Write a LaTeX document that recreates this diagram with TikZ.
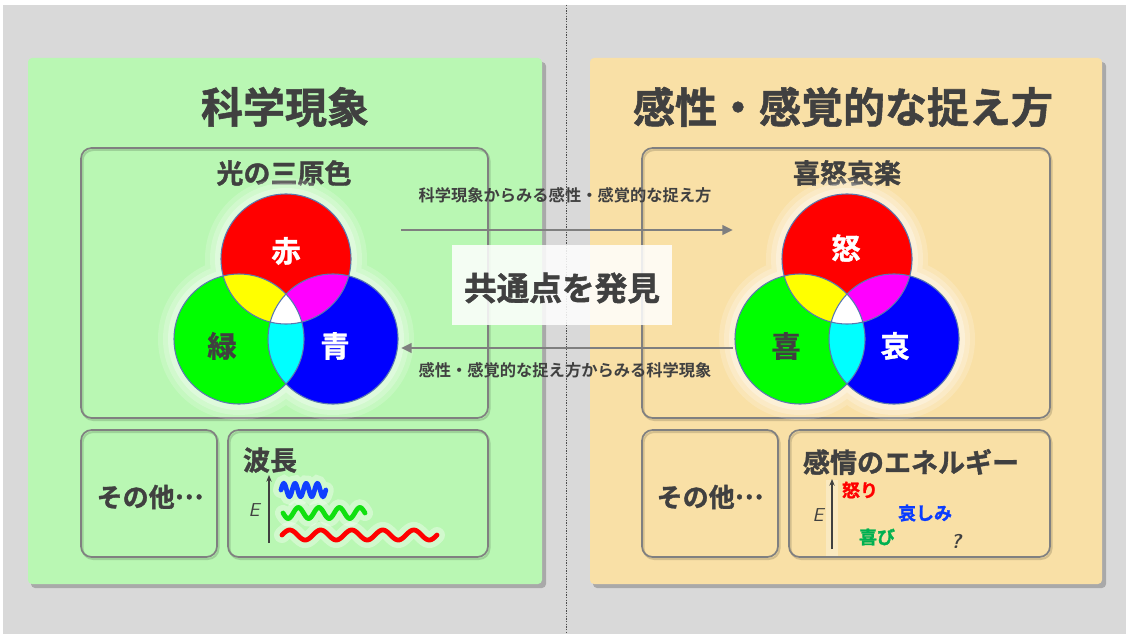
\documentclass[tikz,border=0pt]{standalone}
\usepackage{fontspec}
\newfontfamily\jp{Noto Sans CJK JP}[BoldFont={Noto Sans CJK JP Bold}]
\newfontfamily\jph{Noto Sans CJK JP Bold}[FakeBold=1.3]
\usetikzlibrary{arrows.meta}
\definecolor{bggray}{HTML}{D9D9D9}
\definecolor{panelgreen}{HTML}{B9F7B3}
\definecolor{panelpeach}{HTML}{F9E0A6}
\definecolor{ink}{HTML}{404040}
\definecolor{boxline}{HTML}{808080}
\definecolor{vennline}{HTML}{5A78B0}
\definecolor{joygreen}{HTML}{00B050}
\definecolor{arrowgray}{HTML}{7F7F7F}
\definecolor{vred}{HTML}{FF0000}
\definecolor{vgreen}{HTML}{00FF00}
\definecolor{vblue}{HTML}{0000FF}
\definecolor{vyellow}{HTML}{FFFF00}
\definecolor{vmagenta}{HTML}{FF00FF}
\definecolor{vcyan}{HTML}{00FFFF}
\definecolor{waveblue}{HTML}{1040FF}
\definecolor{wavegreen}{HTML}{10E010}
\definecolor{sadblue}{HTML}{0A3CFF}
\newcommand\jpsize[1]{\fontsize{#1}{#1}\selectfont}
\newcommand\midots{\raisebox{0.3em}{…}}
\tikzset{
  panel/.style={rounded corners=3pt},
  panelshadow/.style={rounded corners=3pt, fill=black, fill opacity=0.22},
  innerbox/.style={draw=boxline, line width=1.3pt, rounded corners=8pt},
  innershadow/.style={draw=black, draw opacity=0.15, line width=1.5pt, rounded corners=8pt},
  title/.style={font=\jph\jpsize{31.5pt}, text=ink, inner sep=0pt},
  subtitle/.style={font=\jph\jpsize{20.25pt}, text=ink, inner sep=0pt},
  vennlabel/.style={font=\jph\jpsize{22pt}, inner sep=0pt},
  arrowlabel/.style={font=\jp\bfseries\jpsize{12.2pt}, text=ink, inner sep=1pt},
  linkarrow/.style={draw=arrowgray, line width=2pt, -{Triangle[length=8pt,width=7pt]}},
  wave/.style={line width=3.6pt, line cap=round},
  waveglow/.style={line width=12pt, white, opacity=0.35, line cap=round},
  small/.style={font=\jph\jpsize{13.5pt}, inner sep=0pt},
  axislabel/.style={font=\sffamily\itshape\jpsize{14pt}, text=ink, inner sep=0pt},
  axisarrow/.style={draw=ink, line width=1.1pt, -{Stealth[length=5pt,width=4pt]}},
}
\newcommand\venn[3]{%
  \foreach \d/\o in {16/0.18,11/0.22,6/0.3}{
    \fill[white, opacity=\o] (#1) circle ({(65+\d)*0.75pt}) (#2) circle ({(65+\d)*0.75pt}) (#3) circle ({(65+\d)*0.75pt});
  }
  \fill[vred] (#1) circle (48.75pt);
  \fill[vgreen] (#2) circle (48.75pt);
  \fill[vblue] (#3) circle (48.75pt);
  \begin{scope}\clip (#1) circle (48.75pt); \fill[vyellow] (#2) circle (48.75pt);\end{scope}
  \begin{scope}\clip (#1) circle (48.75pt); \fill[vmagenta] (#3) circle (48.75pt);\end{scope}
  \begin{scope}\clip (#2) circle (48.75pt); \fill[vcyan] (#3) circle (48.75pt);\end{scope}
  \begin{scope}\clip (#1) circle (48.75pt); \clip (#2) circle (48.75pt); \fill[white] (#3) circle (48.75pt);\end{scope}
  \draw[vennline, line width=0.8pt] (#1) circle (48.75pt) (#2) circle (48.75pt) (#3) circle (48.75pt);
}
\begin{document}
\begin{tikzpicture}[x=0.75pt, y=-0.75pt]
\useasboundingbox (0,0) rectangle (1126,634);
\fill[white] (0,0) rectangle (1126,634);
\fill[bggray] (3,5) rectangle (1126,634);
\draw[black!70, line width=0.5pt, dash pattern=on 1pt off 1pt] (566,5) -- (566,634);

% panels
\fill[panelshadow] (31,62) rectangle (546,588);
\fill[panelgreen, panel] (28,58) rectangle (542,584);
\fill[panelshadow] (593,62) rectangle (1106,588);
\fill[panelpeach, panel] (590,58) rectangle (1102,584);

\node[title] (ltitle) at (285,107) {科学現象};
\node[title] (rtitle) at (843,107) {感性・感覚的な捉え方};

% inner boxes
\foreach \a/\b/\c/\d in {81/148/488/418, 81/430/217/557, 228/430/488/557, 642/148/1050/418, 642/430/778/557, 789/430/1050/557}{
  \draw[innershadow] (\a+1.5,\b+2) rectangle (\c+1.5,\d+2);
  \draw[innerbox] (\a,\b) rectangle (\c,\d);
}

\node[subtitle] (lsub) at (284,173) {光の三原色};
\node[subtitle] (rsub) at (847,173) {喜怒哀楽};

% Venn diagrams
\coordinate (LR) at (286,259);
\coordinate (LG) at (239,339);
\coordinate (LB) at (333,339);
\venn{LR}{LG}{LB}
\node[vennlabel, text=white] (aka) at (286,251) {赤};
\node[vennlabel, text=ink] (midori) at (222,346) {緑};
\node[vennlabel, text=white] (ao) at (335,346) {青};

\coordinate (RR) at (847,259);
\coordinate (RG) at (800,339);
\coordinate (RB) at (894,339);
\venn{RR}{RG}{RB}
\node[vennlabel, text=white] (ikari) at (846,248) {怒};
\node[vennlabel, text=ink] (yoro) at (786,346) {喜};
\node[vennlabel, text=white] (ai) at (895,346) {哀};

% link arrows
\coordinate (a1s) at (401,230);
\coordinate (a1e) at (733,230);
\coordinate (a2s) at (733,348);
\coordinate (a2e) at (401,348);
\draw[linkarrow] (a1s) -- (a1e);
\draw[linkarrow] (a2s) -- (a2e);
\node[arrowlabel] (lab1) at (565,195) {科学現象からみる感性・感覚的な捉え方};
\node[arrowlabel] (lab2) at (565,370) {感性・感覚的な捉え方からみる科学現象};

% central box
\fill[white, opacity=0.85] (452,245) rectangle (672,325);
\node[font=\jph\jpsize{24.5pt}, text=ink, inner sep=0pt] (common) at (562,288) {共通点を発見};

% others
\node[subtitle, font=\jph\jpsize{19.5pt}] (lother) at (150,497) {その他\midots};
\node[subtitle, font=\jph\jpsize{19.5pt}] (rother) at (710,497) {その他\midots};

% wavelength box
\node[subtitle] (hacho) at (270,460) {波長};
\coordinate (le0) at (269,543);
\coordinate (le1) at (269,475);
\draw[axisarrow] (le0) -- (le1);
\node[axislabel] (lE) at (254,510) {E};
\draw[waveglow] plot[domain=0:4, samples=80] ({281+\x*11.2},{490-6.5*sin(\x*360)});
\draw[waveglow] plot[domain=0:4, samples=80] ({283+\x*20.5},{513+5.5*sin(\x*360)});
\draw[waveglow] plot[domain=0:5, samples=120] ({282+\x*31},{535-5*sin(\x*360)});
\draw[wave, waveblue] plot[domain=0:4, samples=80] ({281+\x*11.2},{490-6.5*sin(\x*360)});
\draw[wave, wavegreen] plot[domain=0:4, samples=80] ({283+\x*20.5},{513+5.5*sin(\x*360)});
\draw[wave, vred] plot[domain=0:5, samples=120] ({282+\x*31},{535-5*sin(\x*360)});

% emotion energy box
\node[subtitle] (kanjo) at (911,462) {感情のエネルギー};
\fill[white, opacity=0.3] (826,480) rectangle (838,556);
\coordinate (re0) at (832,549);
\coordinate (re1) at (832,479);
\draw[axisarrow] (re0) -- (re1);
\node[axislabel] (rE) at (818,515) {E};
\node[small, text=vred] (ikari2) at (860,490) {怒り};
\node[small, text=sadblue] (kanashimi) at (925,513) {哀しみ};
\node[small, text=joygreen] (yorokobi) at (877,537) {喜び};
\node[axislabel, font=\sffamily\bfseries\itshape\jpsize{15pt}] (q) at (956,541) {?};
\end{tikzpicture}
\end{document}
